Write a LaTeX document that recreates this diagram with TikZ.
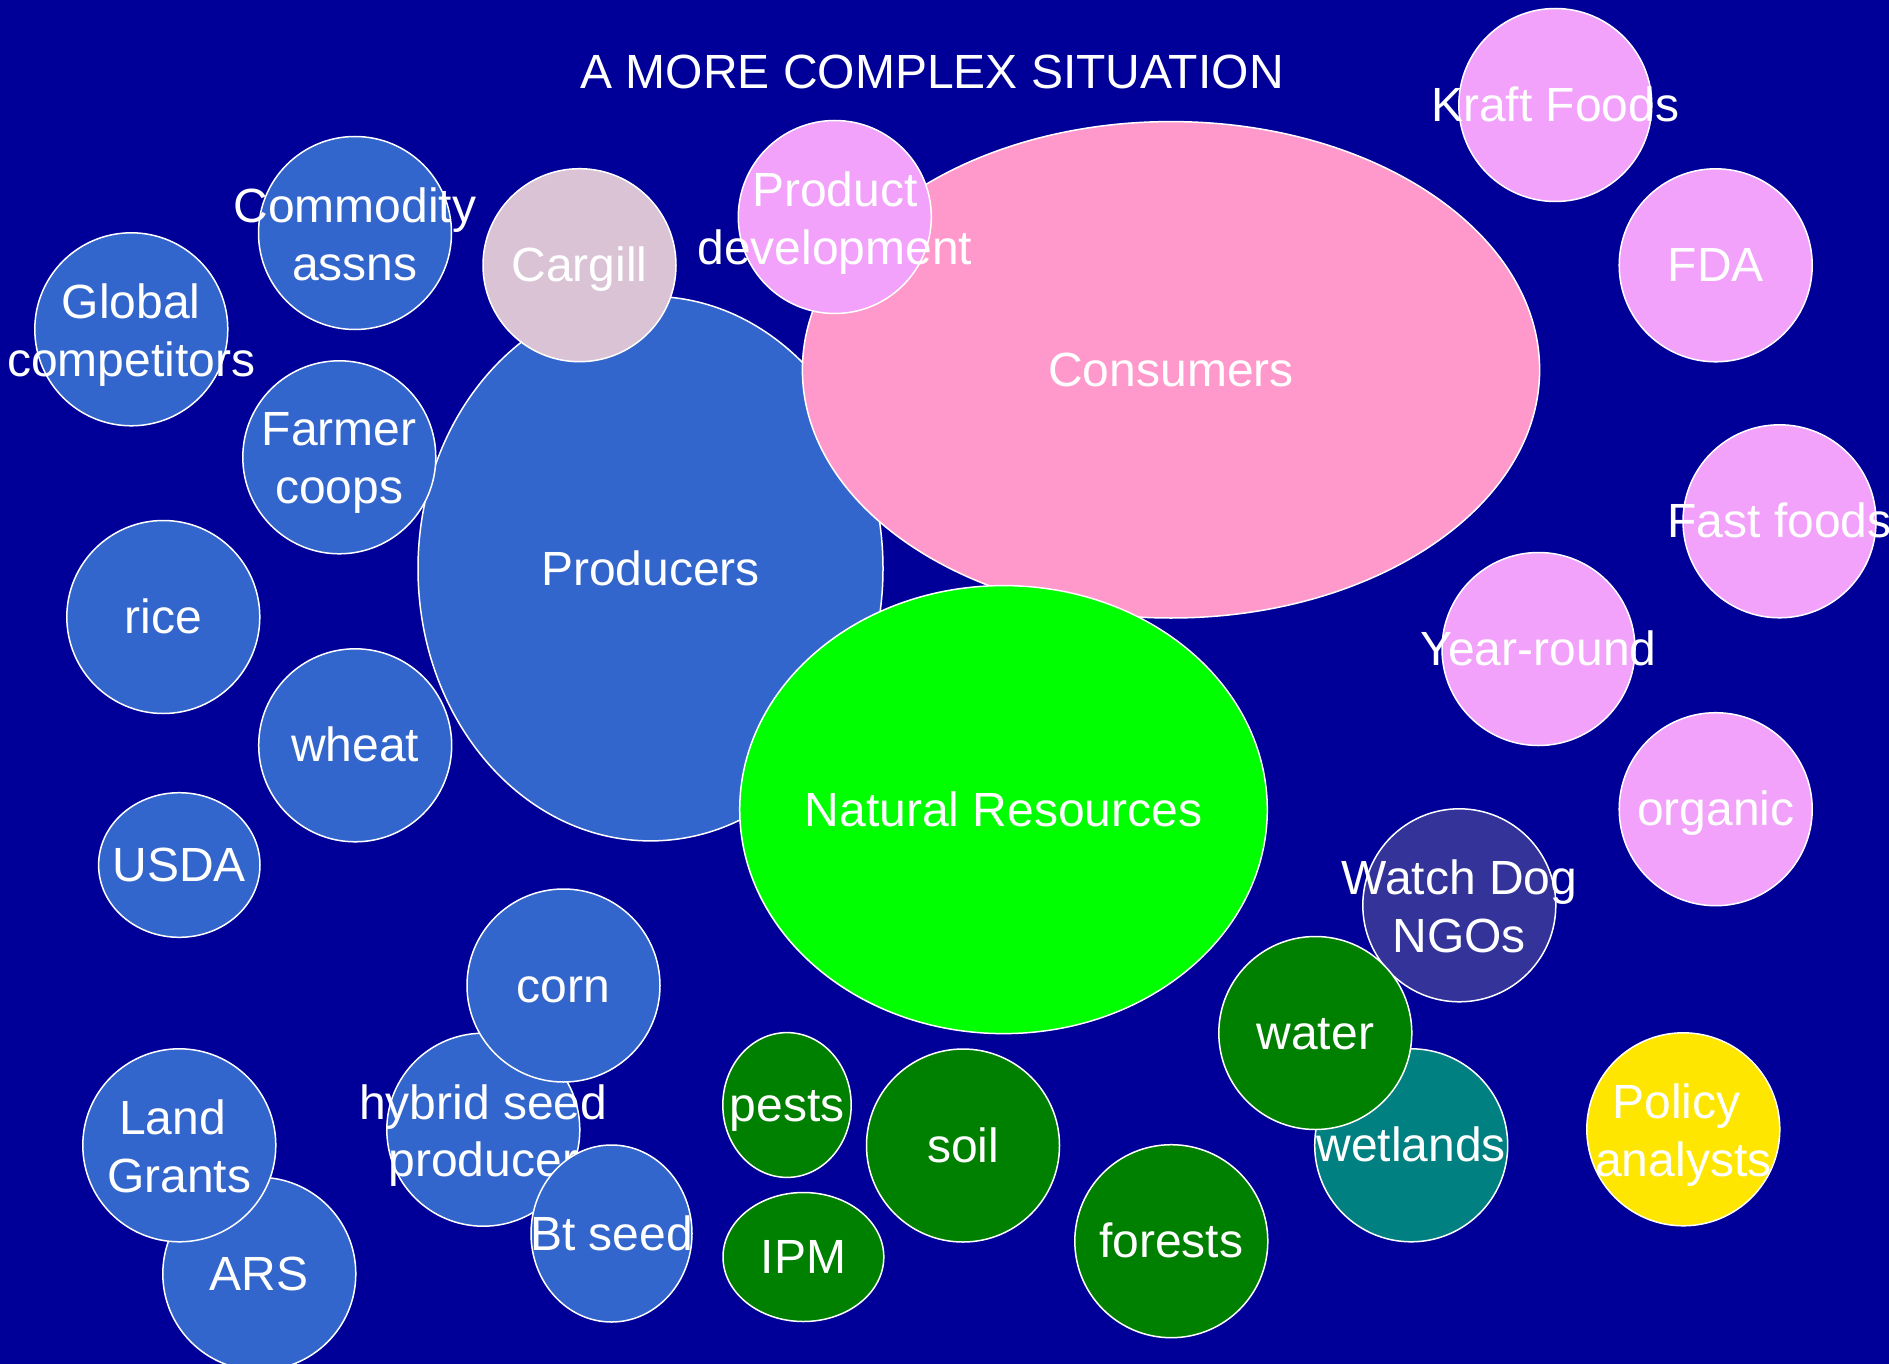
\documentclass[tikz,border=0pt]{standalone}
\usepackage{fontspec}
\setmainfont{Liberation Sans}
\usetikzlibrary{shapes.geometric}
\definecolor{bgblue}{HTML}{000099}
\definecolor{midblue}{HTML}{3366CC}
\definecolor{conspink}{HTML}{FF99CC}
\definecolor{violetpink}{HTML}{F2A2FA}
\definecolor{cargillpink}{HTML}{D9C3D5}
\definecolor{brightgreen}{HTML}{00FF00}
\definecolor{darkgreen}{HTML}{008000}
\definecolor{tealc}{HTML}{008080}
\definecolor{ngoblue}{HTML}{333399}
\definecolor{policyyellow}{HTML}{FFE600}
\newcommand\bstrut{\rule[-0.212em]{0pt}{1.117em}}
\newcommand\tsp{\hspace*{0.278em}}
\tikzset{
  bub/.style={ellipse, draw=white, line width=1.5pt, inner sep=0pt, outer sep=0pt},
  rnd/.style={bub, minimum width=193pt, minimum height=193pt},
  lbl/.style={text=white, font=\fontsize{48}{57.6}\selectfont, align=center,
    inner sep=0pt, execute at begin node=\bstrut, execute at end node=\bstrut},
  lbltwo/.style={lbl, yshift=-6pt}
}
\begin{document}
\begin{tikzpicture}[x=1pt,y=-1pt]
\useasboundingbox (0,0) rectangle (1889,1364);
\clip (0,0) rectangle (1889,1364);
\fill[bgblue] (0,0) rectangle (1889,1364);

\node[lbl] (title) at (932,72) {A MORE COMPLEX SITUATION};

\node[bub, fill=midblue, minimum width=465pt, minimum height=544.6pt] (producers) at (650.5,568.6) {};
\node[lbl] (producersT) at (producers.center) {Producers};

\node[bub, fill=conspink, minimum width=737.2pt, minimum height=496.4pt] (consumers) at (1171,369.8) {};
\node[lbl] (consumersT) at (consumers.center) {Consumers};

\node[bub, fill=brightgreen, minimum width=527.6pt, minimum height=448pt] (natres) at (1003.5,809.6) {};
\node[lbl] (natresT) at (natres.center) {Natural Resources};

\node[rnd, fill=cargillpink] (cargill) at (579.5,265.2) {};
\node[lbl] (cargillT) at (cargill.center) {Cargill};

\node[rnd, fill=violetpink] (proddev) at (834.8,217) {};
\node[lbltwo] (proddevT) at (proddev.center) {Product\\development};

\node[rnd, fill=midblue] (commodity) at (355,233) {};
\node[lbltwo] (commodityT) at (commodity.center) {Commodity\\assns};

\node[rnd, fill=midblue] (global) at (131.3,329.3) {};
\node[lbltwo] (globalT) at (global.center) {Global\\competitors};

\node[rnd, fill=midblue] (farmer) at (339.3,457.3) {};
\node[lbltwo] (farmerT) at (farmer.center) {Farmer\\coops};

\node[rnd, fill=midblue] (rice) at (163.3,617) {};
\node[lbl] (riceT) at (rice.center) {rice};

\node[rnd, fill=midblue] (wheat) at (355.2,745.3) {};
\node[lbl] (wheatT) at (wheat.center) {wheat};

\node[bub, fill=midblue, minimum width=161.4pt, minimum height=144.6pt] (usda) at (179.3,865) {};
\node[lbl] (usdaT) at (usda.center) {USDA};

\node[rnd, fill=violetpink] (kraft) at (1555.3,105) {};
\node[lbl] (kraftT) at (kraft.center) {Kraft Foods};

\node[rnd, fill=violetpink] (fda) at (1715.7,265.3) {};
\node[lbl] (fdaT) at (fda.center) {FDA};

\node[rnd, fill=violetpink] (fast) at (1779.5,521.3) {};
\node[lbl] (fastT) at (fast.center) {Fast foods};

\node[rnd, fill=violetpink] (year) at (1538.5,649) {};
\node[lbl] (yearT) at (year.center) {Year-round};

\node[rnd, fill=violetpink] (organic) at (1715.7,809.2) {};
\node[lbl] (organicT) at (organic.center) {organic};

\node[rnd, fill=ngoblue] (watchdog) at (1459.3,905.3) {};
\node[lbltwo] (watchdogT) at (watchdog.center) {Watch Dog\\NGOs};

\node[rnd, fill=tealc] (wetlands) at (1411.2,1145.3) {};
\node[lbl] (wetlandsT) at (wetlands.center) {wetlands};

\node[rnd, fill=darkgreen] (water) at (1315.3,1033) {};
\node[lbl] (waterT) at (water.center) {water};

\node[rnd, fill=policyyellow] (policy) at (1683.3,1129.3) {};
\node[lbltwo] (policyT) at (policy.center) {Policy\tsp\\analysts};

\node[rnd, fill=midblue] (hybrid) at (483.3,1129.7) {};
\node[lbltwo] (hybridT) at (hybrid.center) {hybrid seed\\producer};

\node[rnd, fill=midblue] (corn) at (563.5,985.5) {};
\node[lbl] (cornT) at (corn.center) {corn};

\node[bub, fill=midblue, minimum width=161pt, minimum height=177pt] (bt) at (611.5,1233.5) {};
\node[lbl] (btT) at (bt.center) {Bt seed};

\node[rnd, fill=midblue] (ars) at (259.3,1273.8) {};
\node[lbl] (arsT) at (ars.center) {ARS};

\node[rnd, fill=midblue] (land) at (179.3,1145.3) {};
\node[lbltwo] (landT) at (land.center) {Land\tsp\\Grants};

\node[bub, fill=darkgreen, minimum width=128.4pt, minimum height=144.8pt] (pests) at (787,1105) {};
\node[lbl] (pestsT) at (pests.center) {pests};

\node[bub, fill=darkgreen, minimum width=160.8pt, minimum height=129pt] (ipm) at (803.4,1257) {};
\node[lbl] (ipmT) at (ipm.center) {IPM};

\node[rnd, fill=darkgreen] (soil) at (963,1145.5) {};
\node[lbl] (soilT) at (soil.center) {soil};

\node[rnd, fill=darkgreen] (forests) at (1171.3,1241.2) {};
\node[lbl] (forestsT) at (forests.center) {forests};
\end{tikzpicture}
\end{document}
